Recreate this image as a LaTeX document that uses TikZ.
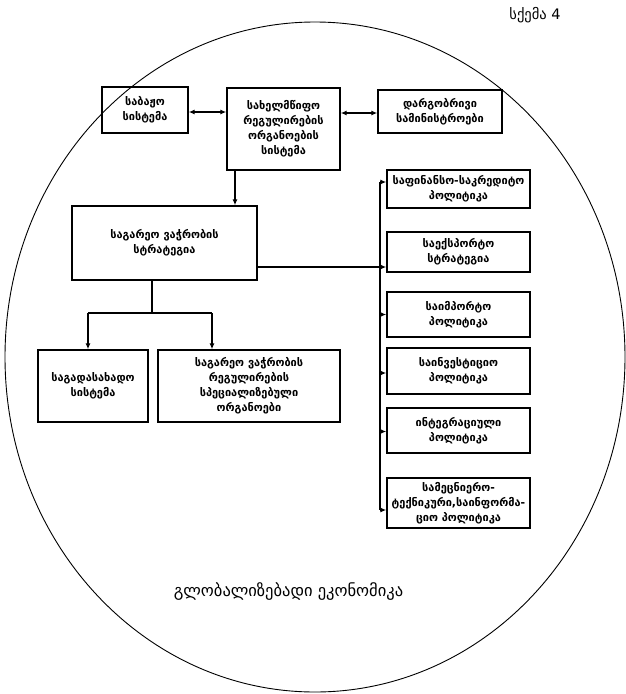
\documentclass[tikz,border=0pt]{standalone}
\usepackage{fontspec}
\setmainfont{DejaVu Sans}
\usetikzlibrary{arrows.meta}

\tikzset{
  blok/.style={draw, line width=1.4pt, align=center, inner sep=2pt,
    font=\bfseries\fontsize{11}{15}\selectfont},
  liniya/.style={line width=1.2pt},
  strela/.style={liniya, -{Latex[length=6pt,width=5pt]}},
  dvoj/.style={liniya, {Latex[length=6pt,width=5pt]}-{Latex[length=6pt,width=5pt]}},
}

\begin{document}
\begin{tikzpicture}[x=1pt,y=-1pt]
        \useasboundingbox (0,0) rectangle (626,694);

        %Shape: Ellipse
        \draw [line width=0.9pt] (315,357) ellipse [x radius=310, y radius=335];

        % Text Node
        \node [font=\fontsize{14.5}{17}\selectfont] (sxema) at (535,15) {სქემა 4};
        \node [font=\fontsize{16.5}{19}\selectfont] (globek) at (288.5,592) {გლობალიზებადი ეკონომიკა};

        %Shape: Rectangle (top row)
        \node [blok, minimum width=86, minimum height=46] (sabajo) at (145,110) {საბაჟო\\სისტემა};
        \node [blok, minimum width=113, minimum height=82] (organo) at (283.5,129) {სახელმწიფო\\რეგულირების\\ორგანოების\\სისტემა};
        \node [blok, minimum width=124, minimum height=43] (saminist) at (440,111.5) {დარგობრივი\\სამინისტროები};

        %Shape: Rectangle (left)
        \node [blok, minimum width=185, minimum height=74] (strateg) at (164.5,243) {საგარეო ვაჭრობის\\სტრატეგია};
        \node [blok, minimum width=110, minimum height=72] (sagadasax) at (93,386) {საგადასახადო\\სისტემა};
        \node [blok, minimum width=182, minimum height=72] (specorg) at (249,386) {საგარეო ვაჭრობის\\რეგულირების\\სპეციალიზებული\\ორგანოები};

        %Shape: Rectangle (right column)
        \node [blok, minimum width=143, minimum height=38] (fink) at (458.5,189) {საფინანსო-საკრედიტო\\პოლიტიკა};
        \node [blok, minimum width=143, minimum height=40] (eksp) at (458.5,252) {საექსპორტო\\სტრატეგია};
        \node [blok, minimum width=143, minimum height=45] (imp) at (458.5,314.5) {საიმპორტო\\პოლიტიკა};
        \node [blok, minimum width=143, minimum height=46] (inv) at (458.5,371) {საინვესტიციო\\პოლიტიკა};
        \node [blok, minimum width=143, minimum height=45] (integr) at (458.5,430.5) {ინტეგრაციული\\პოლიტიკა};
        \node [blok, minimum width=143, minimum height=50] (mecn) at (458.5,503) {სამეცნიერო-\\ტექნიკური,საინფორმა-\\ციო პოლიტიკა};

        %Straight Lines
        \draw [dvoj] ([yshift=-2]sabajo.east) -- ([yshift=-2]sabajo.east -| organo.west);
        \draw [dvoj] ([yshift=-1.5]saminist.west) -- ([yshift=-1.5]saminist.west -| organo.east);
        \draw [strela] ([xshift=-48.5]organo.south) -- ([xshift=-48.5]organo.south |- strateg.north);

        \coordinate (razv) at (152,313);
        \coordinate (vl) at (88,313);
        \coordinate (vp) at (212,313);
        \draw [liniya] (strateg.south -| razv) -- (razv);
        \draw [liniya] (vl) -- (vp);
        \draw [strela] (vl) -- (vl |- sagadasax.north);
        \draw [strela] (vp) -- (vp |- specorg.north);

        \coordinate (tz) at (380,182);
        \coordinate (tq) at (380,510);
        \draw [liniya] (tz) -- (tq);
        \draw [strela] ([yshift=-24]strateg.east) -- ([yshift=-24]strateg.east -| eksp.west);
        \foreach \n/\d in {fink/7, imp/0, inv/-2, integr/-1, mecn/-7}
          \draw [strela] ([yshift=\d]\n.west -| tz) -- ([yshift=\d]\n.west);

\end{tikzpicture}
\end{document}
